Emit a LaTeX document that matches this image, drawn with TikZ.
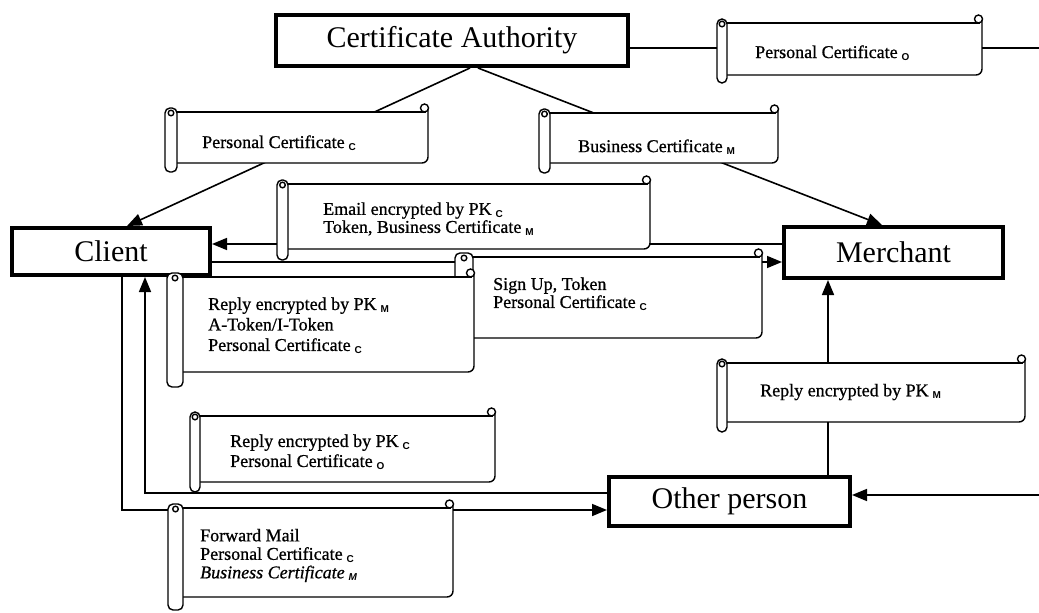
\documentclass[tikz,border=0pt]{standalone}
\usepackage{fontspec}
\setmainfont{Liberation Serif}
\newfontfamily\scrfont[FakeBold=0.8]{Liberation Serif}
\newfontfamily\subfont{Liberation Sans}
\usetikzlibrary{arrows.meta,calc}
\newcommand\sbs[1]{\hspace{4pt}\raisebox{-2.5pt}{\subfont\bfseries\fontsize{10}{10}\selectfont #1}}
% #1 L  #2 T  #3 R  #4 B  #5 roll bottom  #6 roll width
\newcommand\scrollshape[6]{%
  \fill[white] ({#1+#6/2},#2) rectangle (#3,#4);
  \draw[scrl] ({#1+#6/2},#2) -- ({#3-2},#2);
  \draw[scrl] (#3,{#2-3}) [rounded corners=6pt] -- (#3,#4) -- ({#1+#6/2},#4);
  \draw[scrl,fill=white] ({#3-3.5},{#2-4}) circle (4pt);
  \draw[scrl,fill=white,rounded corners=5pt] (#1,{#2-4}) rectangle ({#1+#6},#5);
  \draw[scrl] ({#1+#6/2},{#2+1}) circle (2.8pt);
}
\begin{document}
\begin{tikzpicture}[x=1pt,y=-1pt,
  bigbox/.style={draw, line width=4pt, fill=white, inner sep=0pt,
    font=\fontsize{30}{30}\selectfont},
  conn/.style={line width=1.6pt},
  arr/.style={conn, -{Triangle[length=15pt,width=12pt]}},
  scrl/.style={line width=1.4pt},
  scrtext/.style={anchor=west, align=left, inner sep=0pt,
    font=\scrfont\fontsize{18}{19.5}\selectfont}]
\useasboundingbox (0,0) rectangle (1039,613);
\fill[white] (0,0) rectangle (1039,613);

% main boxes
\node[bigbox, minimum width=352pt, minimum height=51pt] (ca) at (452,40.5) {Certificate Authority};
\node[bigbox, minimum width=198pt, minimum height=47pt] (client) at (111,251.5) {Client};
\node[bigbox, minimum width=219pt, minimum height=51pt] (merchant) at (893.5,252.5) {Merchant};
\node[bigbox, minimum width=241pt, minimum height=49pt] (other) at (729.5,501.5) {Other person};

\coordinate (eR1) at (1039,48);
\coordinate (eR2) at (1039,495);

% connectors
\draw[arr] ($(ca.south)+(18,0)$) -- ($(client.north)+(16,0)$);
\draw[arr] ($(ca.south)+(26,0)$) -- ($(merchant.north)+(-11.5,0)$);
\draw[conn] ($(ca.east)+(0,7.5)$) -- (eR1);
\draw[arr] (eR2) -- ($(other.east)+(0,-6.5)$);
\draw[arr] ($(other.north)+(98.5,0)$) -- ($(merchant.south)+(-65.5,0)$);
\draw[arr] ($(merchant.west)+(0,-8.5)$) -- ($(client.east)+(0,-7.5)$);
\draw[arr] ($(client.east)+(0,10.5)$) -- ($(merchant.west)+(0,9.5)$);
\draw[arr] ($(client.south)+(11,0)$) |- ($(other.west)+(0,8.5)$);
\draw[arr] ($(other.west)+(0,-8.5)$) -| ($(client.south)+(34,0)$);

% scrolls
\scrollshape{165}{112}{428}{163}{172}{12}
\node[scrtext] (s1) at (202,143) {Personal Certificate\sbs{C}};

\scrollshape{539}{113}{778}{163}{173}{11}
\node[scrtext] (s2) at (578,147) {Business Certificate\sbs{M}};

\scrollshape{277}{184}{650}{249}{260}{11}
\node[scrtext, font=\scrfont\fontsize{18}{18}\selectfont] (s3) at (323,219) {Email encrypted by PK\sbs{C}\\Token, Business Certificate\sbs{M}};

\scrollshape{455}{257}{762}{338}{345}{18}
\node[scrtext, font=\scrfont\fontsize{18}{18}\selectfont] (s5) at (493,294) {Sign Up, Token\\Personal Certificate\sbs{C}};

\scrollshape{167}{277}{474}{372}{387}{16}
\node[scrtext, font=\scrfont\fontsize{18}{20.5}\selectfont] (s4) at (208,325.5) {Reply encrypted by PK\sbs{M}\\A-Token/I-Token\\Personal Certificate\sbs{C}};

\scrollshape{717}{363}{1025}{422}{432}{10}
\node[scrtext] (s6) at (760,392) {Reply encrypted by PK\sbs{M}};

\scrollshape{190}{416}{495}{482}{492}{10}
\node[scrtext, font=\scrfont\fontsize{18}{20}\selectfont] (s7) at (230,452) {Reply encrypted by PK\sbs{C}\\Personal Certificate\sbs{O}};

\scrollshape{168}{508}{453}{597}{610}{15}
\node[scrtext, font=\scrfont\fontsize{18}{18.5}\selectfont] (s8) at (200,555.5) {Forward Mail\\Personal Certificate\sbs{C}\\\textit{Business Certificate}\sbs{\itshape M}};

\scrollshape{717}{23}{982}{75}{83}{10}
\node[scrtext] (s9) at (755,53) {Personal Certificate\sbs{O}};
\end{tikzpicture}
\end{document}
